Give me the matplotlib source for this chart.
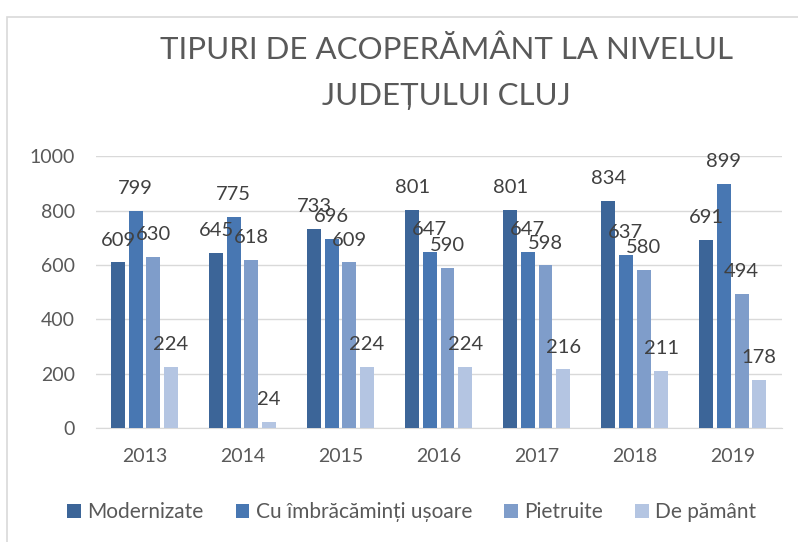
import matplotlib
matplotlib.use("Agg")
import matplotlib.pyplot as plt
from matplotlib.patches import Rectangle
import numpy as np

years = ["2013", "2014", "2015", "2016", "2017", "2018", "2019"]
series_names = ["Modernizate", "Cu îmbrăcăminți ușoare", "Pietruite", "De pământ"]
modernizate = [609, 645, 733, 801, 801, 834, 691]
imbracaminti_usoare = [799, 775, 696, 647, 647, 637, 899]
pietruite = [630, 618, 609, 590, 598, 580, 494]
de_pamant = [224, 24, 224, 224, 216, 211, 178]
colors = ["#3C6598", "#4877B2", "#7F9DCA", "#B4C5E2"]

title_lines = ["TIPURI DE ACOPERĂMÂNT LA NIVELUL", "JUDEȚULUI CLUJ"]

text_font = ["Lato", "DejaVu Sans"]
grey = "#595959"

fig = plt.figure(figsize=(7.98, 5.42), dpi=100)
ax = fig.add_axes([0.1197, 0.210, 0.860, 0.502])

x = np.arange(len(years))
width = 0.142
step = 0.18
all_series = [modernizate, imbracaminti_usoare, pietruite, de_pamant]
for i, (vals, name, col) in enumerate(zip(all_series, series_names, colors)):
    pos = x + (i - 1.5) * step
    ax.bar(pos, vals, width=width, color=col, label=name, zorder=3)
    for xp, v in zip(pos, vals):
        ax.annotate(str(v), (xp, v), xytext=(0, 10), textcoords="offset points",
                    ha="center", va="bottom", fontsize=14.5, color="#404040",
                    family=text_font, annotation_clip=False, zorder=4)

ax.set_xlim(-0.5, len(years) - 0.5)
ax.set_ylim(0, 1000)
ax.set_yticks(range(0, 1001, 200))
ax.set_xticks(x)
ax.set_xticklabels(years)
ax.yaxis.grid(True, color="#D9D9D9", linewidth=1, zorder=0)
for side in ["top", "right", "left"]:
    ax.spines[side].set_visible(False)
ax.spines["bottom"].set_color("#D9D9D9")
ax.tick_params(axis="both", length=0, labelsize=14, colors=grey)
ax.tick_params(axis="x", pad=14)
ax.tick_params(axis="y", pad=15)
for lbl in ax.get_xticklabels() + ax.get_yticklabels():
    lbl.set_family(text_font)

fig.text(0.559, 1 - 59 / 542, title_lines[0], ha="center", va="baseline",
         fontsize=22.5, color=grey, family=text_font)
fig.text(0.559, 1 - 105 / 542, title_lines[1], ha="center", va="baseline",
         fontsize=22.5, color=grey, family=text_font)

leg = fig.legend(loc="center", bbox_to_anchor=(0.516, 0.055), ncol=4, frameon=False,
                 handlelength=0.65, handleheight=0.65, handletextpad=0.3,
                 columnspacing=1.55, prop={"family": text_font, "size": 15})
for t in leg.get_texts():
    t.set_color(grey)

fig.patches.append(Rectangle((7 / 798, -0.1), 1.2, 1.1 - 17 / 542,
                             transform=fig.transFigure, fill=False,
                             edgecolor="#D9D9D9", linewidth=1.2))

fig.savefig("out.png", dpi=100)
